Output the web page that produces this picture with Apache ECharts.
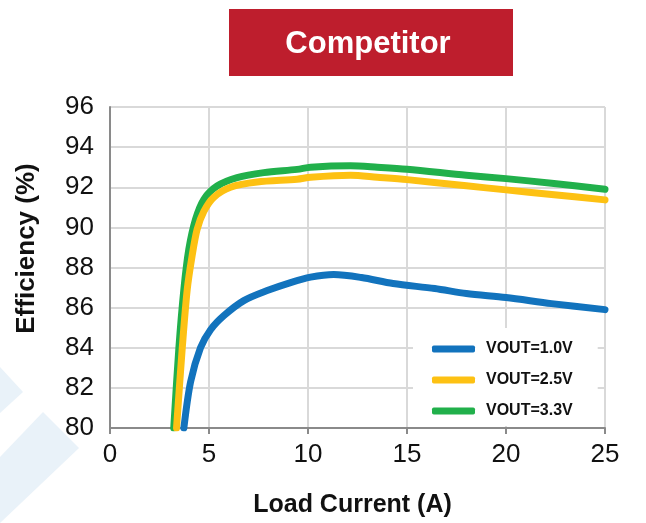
<!DOCTYPE html>
<html>
<head>
<meta charset="utf-8">
<script src="https://cdn.jsdelivr.net/npm/echarts@6/dist/echarts.min.js"></script>
<style>
  html, body { margin: 0; padding: 0; background: #fff; }
  #chart { width: 646px; height: 523px; }
</style>
</head>
<body>
<div id="chart"></div>
<script>
// load current (A) / efficiency (%)
const x10 = [3.73, 4.07, 4.57, 5.08, 5.75, 6.76, 7.94, 9.12, 10.13, 11.3, 12.7, 14.3, 16.4, 18.0, 20.0, 22.3, 25.0]
const y10 = [80.0, 82.3, 84.0, 84.9, 85.6, 86.35, 86.85, 87.25, 87.52, 87.65, 87.5, 87.2, 86.95, 86.7, 86.5, 86.2, 85.9]

const x25 = [3.36, 3.65, 3.9, 4.15, 4.4, 4.74, 5.24, 6.09, 7.43, 9.45, 10.13, 12.15, 13.5, 15.0, 18.0, 20.0, 22.3, 25.0]
const y25 = [80.0, 84.0, 86.9, 88.6, 89.9, 90.8, 91.5, 92.0, 92.26, 92.4, 92.5, 92.6, 92.5, 92.38, 92.07, 91.87, 91.64, 91.37]

const x33 = [3.22, 3.48, 3.73, 3.98, 4.32, 4.74, 5.41, 6.42, 7.77, 9.45, 10.13, 12.15, 13.5, 15.0, 18.0, 20.0, 22.3, 25.0]
const y33 = [80.0, 84.0, 86.9, 88.9, 90.4, 91.4, 92.06, 92.48, 92.73, 92.89, 93.0, 93.07, 93.0, 92.9, 92.6, 92.43, 92.2, 91.9]

const names = ['VOUT=1.0V', 'VOUT=2.5V', 'VOUT=3.3V']
const colors = ['#1273bd', '#fdc113', '#21b04b']

const pairs = (xs, ys) => xs.map((x, i) => [x, ys[i]])

const font = 'Liberation Sans, Arial, sans-serif'

const mkLine = (name, data, color, z) => ({
  name: name,
  type: 'line',
  data: data,
  smooth: 0.3,
  showSymbol: false,
  z: z,
  lineStyle: { width: 7, color: color, cap: 'round', join: 'round' },
  itemStyle: { color: color }
})

const chart = echarts.init(document.getElementById('chart'))

const option = {
  animation: false,
  backgroundColor: '#fff',
  textStyle: { fontFamily: font },
  grid: { left: 110, right: 41, top: 107, bottom: 93 },
  graphic: [
    { type: 'polygon', z: -10, silent: true,
      shape: { points: [[0, 367], [23, 392], [0, 413]] },
      style: { fill: '#e9f2f9' } },
    { type: 'polygon', z: -10, silent: true,
      shape: { points: [[0, 457], [43, 412], [79, 448], [0, 523]] },
      style: { fill: '#e9f2f9' } },
    { type: 'rect', x: 229, y: 9, z: 10,
      shape: { width: 284, height: 67 },
      style: { fill: '#be1e2d' } },
    { type: 'text', x: 368, y: 44, z: 11,
      style: { text: 'Competitor', fill: '#fff', font: 'bold 31px ' + font,
        textAlign: 'center', textVerticalAlign: 'middle' } }
  ],
  legend: {
    data: names,
    orient: 'vertical',
    left: 413,
    top: 328,
    padding: [13, 25, 7, 19],
    backgroundColor: '#fff',
    itemWidth: 43,
    itemHeight: 7,
    itemGap: 15,
    icon: 'roundRect',
    textStyle: { fontSize: 16, fontWeight: 'bold', color: '#111', lineHeight: 16, padding: [0, 0, 0, 6] }
  },
  xAxis: {
    type: 'value',
    min: 0, max: 25, interval: 5,
    name: 'Load Current (A)',
    nameLocation: 'middle',
    nameGap: 65,
    nameTextStyle: { fontSize: 25, fontWeight: 'bold', color: '#111', padding: [0, 10, 0, 0] },
    axisLine: { show: true, lineStyle: { color: '#8a8a8a', width: 2 } },
    axisTick: { show: true, length: 6, lineStyle: { color: '#8a8a8a', width: 2 } },
    axisLabel: { fontSize: 26, color: '#111', margin: 14 },
    splitLine: { show: true, lineStyle: { color: '#d9d9d9', width: 2 } }
  },
  yAxis: {
    type: 'value',
    min: 80, max: 96, interval: 2,
    name: 'Efficiency (%)',
    nameLocation: 'middle',
    nameGap: 70,
    nameTextStyle: { fontSize: 26, fontWeight: 'bold', color: '#111', padding: [0, 0, 0, 38] },
    axisLine: { show: true, lineStyle: { color: '#8a8a8a', width: 2 } },
    axisTick: { show: false },
    axisLabel: { fontSize: 26, color: '#111', margin: 16 },
    splitLine: { show: true, lineStyle: { color: '#d9d9d9', width: 2 } }
  },
  series: [
    mkLine(names[2], pairs(x33, y33), colors[2], 2),
    mkLine(names[1], pairs(x25, y25), colors[1], 3),
    mkLine(names[0], pairs(x10, y10), colors[0], 4)
  ]
}

chart.setOption(option)
</script>
</body>
</html>
